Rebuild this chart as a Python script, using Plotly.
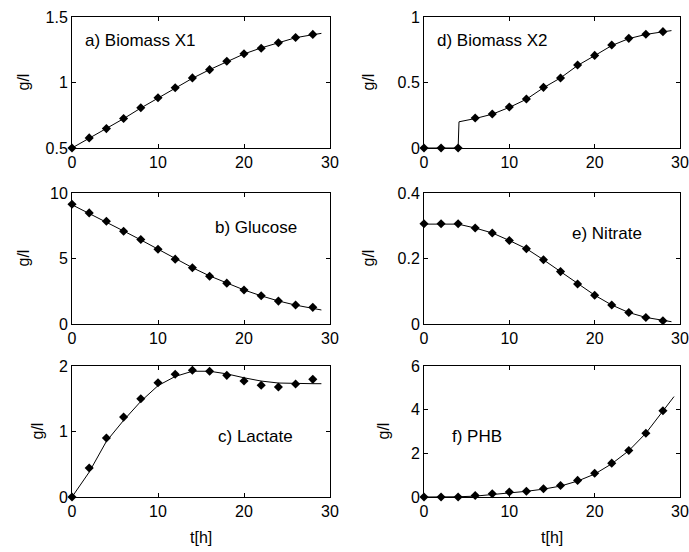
import plotly.graph_objects as go

W, H = 689, 552

# ---------------- data ----------------
t_data = [0, 2, 4, 6, 8, 10, 12, 14, 16, 18, 20, 22, 24, 26, 28]
t_line = [0, 2, 4, 6, 8, 10, 12, 14, 16, 18, 20, 22, 24, 26, 28, 29]
t_line_x2 = [0, 2, 4, 4.1, 6, 8, 10, 12, 14, 16, 18, 20, 22, 24, 26, 28, 29]
t_line_phb = [0, 2, 4, 6, 8, 10, 12, 14, 16, 18, 20, 22, 24, 26, 28, 29.3]

biomass_x1_data = [0.5, 0.577, 0.648, 0.725, 0.807, 0.884, 0.96, 1.035, 1.098, 1.162, 1.219, 1.262, 1.303, 1.344, 1.367]
biomass_x1_model = [0.5, 0.575, 0.648, 0.724, 0.805, 0.882, 0.958, 1.032, 1.098, 1.16, 1.218, 1.264, 1.305, 1.342, 1.365, 1.375]

glucose_data = [9.14, 8.48, 7.84, 7.08, 6.45, 5.71, 4.95, 4.29, 3.65, 3.12, 2.59, 2.16, 1.75, 1.45, 1.27]
glucose_model = [9.1, 8.45, 7.8, 7.1, 6.42, 5.7, 4.97, 4.3, 3.67, 3.12, 2.6, 2.15, 1.76, 1.44, 1.2, 1.07]

lactate_data = [0.0, 0.443, 0.90, 1.22, 1.50, 1.745, 1.873, 1.934, 1.919, 1.857, 1.771, 1.705, 1.679, 1.725, 1.796]
lactate_model = [0.0, 0.38, 0.85, 1.17, 1.46, 1.70, 1.84, 1.92, 1.92, 1.88, 1.82, 1.77, 1.74, 1.73, 1.73, 1.73]

biomass_x2_data = [0.0, 0.0, 0.0, 0.229, 0.26, 0.313, 0.374, 0.463, 0.534, 0.634, 0.707, 0.786, 0.837, 0.868, 0.888]
biomass_x2_model = [0.0, 0.0, 0.0, 0.2, 0.225, 0.258, 0.31, 0.372, 0.46, 0.535, 0.63, 0.705, 0.782, 0.835, 0.867, 0.887, 0.896]

nitrate_data = [0.306, 0.306, 0.306, 0.293, 0.278, 0.255, 0.230, 0.196, 0.160, 0.122, 0.088, 0.058, 0.035, 0.020, 0.010]
nitrate_model = [0.305, 0.305, 0.305, 0.293, 0.278, 0.255, 0.23, 0.196, 0.16, 0.123, 0.088, 0.058, 0.035, 0.02, 0.01, 0.007]

phb_data = [0.0, 0.0, 0.0, 0.07, 0.15, 0.23, 0.26, 0.38, 0.53, 0.76, 1.09, 1.55, 2.13, 2.92, 3.95]
phb_model = [0.0, 0.0, 0.01, 0.04, 0.11, 0.19, 0.26, 0.36, 0.5, 0.73, 1.05, 1.52, 2.12, 2.92, 3.95, 4.6]

x_ticks = [0, 10, 20, 30]

panels = [
    # (label, label_x, label_y, t_model, model, data, yrange, dtick, col, row, y tick labels)
    ("a) Biomass X1", 1.3, 1.324, t_line, biomass_x1_model, biomass_x1_data, [0.5, 1.5], 0.5, 0, 0, ["0.5", "1", "1.5"]),
    ("b) Glucose", 16.4, 7.33, t_line, glucose_model, glucose_data, [0, 10], 5, 0, 1, ["0", "5", "10"]),
    ("c) Lactate", 16.7, 0.916, t_line, lactate_model, lactate_data, [0, 2], 1, 0, 2, ["0", "1", "2"]),
    ("d) Biomass X2", 1.3, 0.824, t_line_x2, biomass_x2_model, biomass_x2_data, [0, 1], 0.5, 1, 0, ["0", "0.5", "1"]),
    ("e) Nitrate", 17.1, 0.275, t_line, nitrate_model, nitrate_data, [0, 0.4], 0.2, 1, 1, ["0", "0.2", "0.4"]),
    ("f) PHB", 3.05, 2.75, t_line_phb, phb_model, phb_data, [0, 6], 2, 1, 2, ["0", "2", "4", "6"]),
]

# ---------------- layout geometry (pixels) ----------------
col_px = [(72, 330), (424, 680)]
row_px = [(17, 148), (193, 324), (366, 497)]
ylabel_px = {0: 23, 1: 23, 2: 37, 3: 368, 4: 368, 5: 383}

FONT = "Liberation Sans, Arial, sans-serif"

fig = go.Figure()
layout = dict(
    width=W, height=H,
    margin=dict(l=0, r=0, t=0, b=0, autoexpand=False),
    paper_bgcolor="white", plot_bgcolor="white",
    showlegend=False,
    font=dict(family=FONT, size=16, color="black"),
)
annotations = []

for i, (label, lx, ly, tm, ym, yd, yr, dt, col, row, ytxt) in enumerate(panels):
    n = i + 1
    xa = "x" if n == 1 else f"x{n}"
    ya = "y" if n == 1 else f"y{n}"
    xk = "xaxis" if n == 1 else f"xaxis{n}"
    yk = "yaxis" if n == 1 else f"yaxis{n}"
    x0, x1 = col_px[col]
    y0, y1 = row_px[row]
    fig.add_trace(go.Scatter(x=tm, y=ym, mode="lines", line=dict(color="black", width=1),
                             xaxis=xa, yaxis=ya, hoverinfo="skip"))
    fig.add_trace(go.Scatter(x=t_data, y=yd, mode="markers",
                             marker=dict(symbol="diamond", size=7, color="black"),
                             xaxis=xa, yaxis=ya, cliponaxis=False))
    tickvals_y = [yr[0] + k * dt for k in range(len(ytxt))]
    common = dict(ticks="inside", ticklen=4, tickcolor="black", mirror="ticks",
                  showline=True, linecolor="black", linewidth=1, showgrid=False,
                  zeroline=False, automargin=False, tickfont=dict(size=16, family=FONT))
    layout[xk] = dict(domain=[x0 / W, x1 / W], range=[0, 30], anchor=ya,
                      tickvals=x_ticks, ticktext=[str(v) for v in x_ticks], **common)
    layout[yk] = dict(domain=[1 - y1 / H, 1 - y0 / H], range=yr, anchor=xa,
                      tickvals=tickvals_y, ticktext=ytxt, **common)
    annotations.append(dict(text=label, x=lx, y=ly, xref=xa, yref=ya, xanchor="left",
                            yanchor="middle", showarrow=False, font=dict(size=17, family=FONT)))
    annotations.append(dict(text="g/l", x=ylabel_px[i] / W, y=1 - (y0 + y1) / 2 / H,
                            xref="paper", yref="paper", textangle=-90, showarrow=False,
                            xanchor="center", yanchor="middle", font=dict(size=16, family=FONT)))
    if row == 2:
        annotations.append(dict(text="t[h]", x=(x0 + x1) / 2 / W, y=1 - 537 / H,
                                xref="paper", yref="paper", showarrow=False,
                                xanchor="center", yanchor="middle", font=dict(size=16, family=FONT)))

layout["annotations"] = annotations
fig.update_layout(**layout)
fig.write_html("out.html", config={"displayModeBar": False},
               post_script="document.body.style.margin='0px';document.body.style.overflow='hidden';")
